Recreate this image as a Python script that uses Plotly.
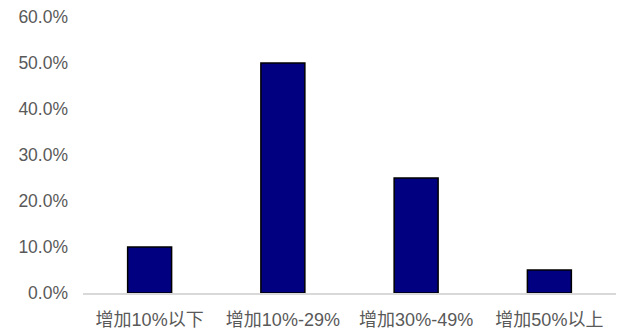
import plotly.graph_objects as go

categories = ["增加10%以下", "增加10%-29%", "增加30%-49%", "增加50%以上"]
shares = [0.10, 0.50, 0.25, 0.05]
y_ticks = [0.0, 0.1, 0.2, 0.3, 0.4, 0.5, 0.6]
y_tick_labels = ["0.0%", "10.0%", "20.0%", "30.0%", "40.0%", "50.0%", "60.0%"]

font_family = "Arial, Liberation Sans, Noto Sans CJK SC, sans-serif"

fig = go.Figure(
    go.Bar(
        x=categories,
        y=shares,
        marker=dict(color="#000080", line=dict(color="#000000", width=1.5)),
    )
)

fig.update_layout(
    width=617,
    height=333,
    margin=dict(l=83, r=1, t=16.5, b=39.5),
    paper_bgcolor="white",
    plot_bgcolor="white",
    bargap=0.67,
    showlegend=False,
    font=dict(family=font_family, size=17, color="#595959"),
)

fig.update_xaxes(
    automargin=False,
    showline=True,
    linecolor="#d9d9d9",
    linewidth=1.5,
    showgrid=False,
    ticks="",
    ticklabelstandoff=10,
    tickfont=dict(size=18, color="#595959"),
)

fig.update_yaxes(
    automargin=False,
    range=[0, 0.6],
    tickvals=y_ticks,
    ticktext=y_tick_labels,
    showgrid=False,
    zeroline=False,
    showline=False,
    ticks="",
    ticklabelstandoff=14,
    tickfont=dict(size=17.5, color="#595959"),
)

fig.write_html("out.html")
